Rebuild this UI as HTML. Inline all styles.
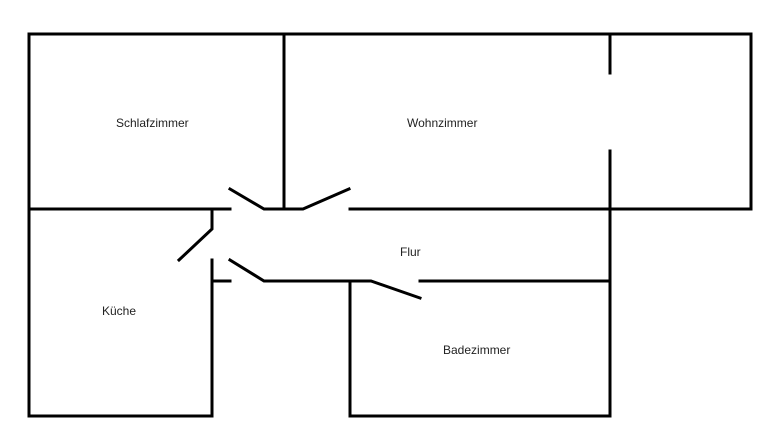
<!DOCTYPE html>
<html><head><style>
html,body{margin:0;padding:0;background:#fff;}
svg{display:block;}
text{font-family:"Liberation Sans",sans-serif;font-size:12px;fill:#222;}
</style></head><body>
<svg width="774" height="438" viewBox="0 0 774 438">
<g stroke="#000" stroke-width="3" fill="none" stroke-linecap="square">
<path d="M29,34 H751 V209 H350"/>
<path d="M29,34 V416 H212 V260"/>
<path d="M29,209 H230"/>
<path d="M212,209 V229 L179,260"/>
<path d="M230,189 L264,209 H303 L349,189"/>
<path d="M284,34 V209"/>
<path d="M610,34 V73"/>
<path d="M610,151 V416 H350 V281"/>
<path d="M212,281 H230"/>
<path d="M230,260 L264,281 H371 L420,298"/>
<path d="M420,281 H610"/>
</g>
<text x="116" y="127">Schlafzimmer</text>
<text x="407" y="127">Wohnzimmer</text>
<text x="400" y="256">Flur</text>
<text x="102" y="315">Küche</text>
<text x="443" y="354">Badezimmer</text>
</svg>
</body></html>
